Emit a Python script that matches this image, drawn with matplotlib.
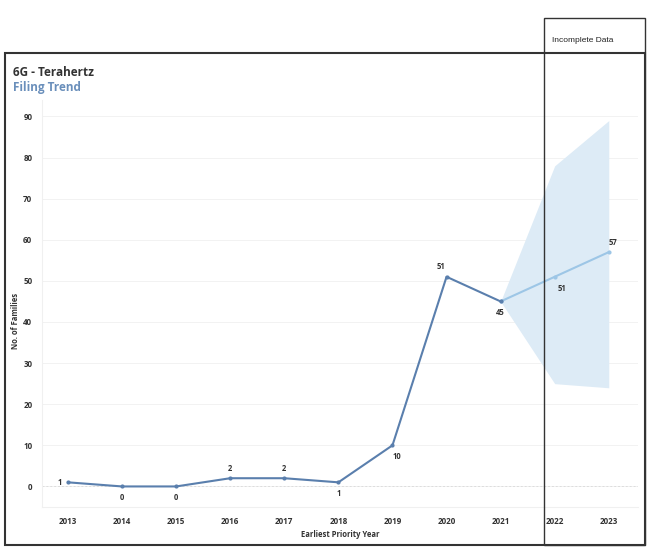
import matplotlib.pyplot as plt
from matplotlib.patches import Rectangle

# data
years = [2013, 2014, 2015, 2016, 2017, 2018, 2019, 2020, 2021]
families = [1, 0, 0, 2, 2, 1, 10, 51, 45]
fc_years = [2021, 2022, 2023]
fc_values = [45, 51, 57]
fc_upper = [45, 78, 89]
fc_lower = [45, 25, 24]
tick_years = list(range(2013, 2024))

plt.rcParams['font.family'] = ['Open Sans', 'DejaVu Sans']

fig = plt.figure(figsize=(6.56, 5.59), dpi=100)
ax = fig.add_axes([42 / 656, 1 - 507 / 559, (638 - 42) / 656, (507 - 100) / 559])

# band + lines
ax.fill_between(fc_years, fc_lower, fc_upper, color='#ddebf6', lw=0, zorder=1)
ax.plot(fc_years, fc_values, color='#9dc6e6', lw=1.5, marker='o', ms=2, zorder=3)
ax.plot(years, families, color='#5a7fad', lw=1.5, marker='o', ms=2, zorder=4)

# value labels
lab_fc = dict(fontsize=5.5, fontweight='bold', color='#333333')
offsets = {2013: (-4, 0, 'right', 'center'), 2014: (0, -5, 'center', 'top'),
           2015: (0, -5, 'center', 'top'), 2016: (0, 4, 'center', 'bottom'),
           2017: (0, 4, 'center', 'bottom'), 2018: (0, -5, 'center', 'top'),
           2019: (3, -5, 'center', 'top'), 2020: (-4, 4, 'center', 'bottom'),
           2021: (0, -5, 'center', 'top')}
for x, y in zip(years, families):
    dx, dy, ha, va = offsets[x]
    ax.annotate(str(y), (x, y), xytext=(dx, dy), textcoords='offset points',
                ha=ha, va=va, **lab_fc)
ax.annotate(str(fc_values[1]), (fc_years[1], fc_values[1]), xytext=(5, -5),
            textcoords='offset points', ha='center', va='top', **lab_fc)
ax.annotate(str(fc_values[2]), (fc_years[2], fc_values[2]), xytext=(3, 4),
            textcoords='offset points', ha='center', va='bottom', **lab_fc)

ax.set_xlim(2012.52, 2023.54)
ax.set_ylim(-5, 94)
ax.set_xticks(tick_years)
ax.set_yticks(range(0, 100, 10))
ax.tick_params(axis='x', length=0, labelsize=5.8, colors='#333333', pad=7)
ax.tick_params(axis='y', length=0, labelsize=5.8, colors='#333333', pad=7)
for t in ax.get_xticklabels() + ax.get_yticklabels():
    t.set_fontweight('bold')
ax.set_xlabel('Earliest Priority Year', fontsize=5.5, fontweight='bold', color='#333333')
ax.set_ylabel('No. of Families', fontsize=5.5, fontweight='bold', color='#333333')
ax.xaxis.set_label_coords((340 - 42) / 596, -(530 - 507) / 407)
ax.yaxis.set_label_coords(-(42 - 20) / 596, (486 - 300) / 407)
ax.grid(axis='y', color='#f2f2f2', lw=0.7)
ax.axhline(0, color='#dddddd', lw=0.7, ls=(0, (2, 2)), zorder=2)
for s in ['top', 'right']:
    ax.spines[s].set_visible(False)
ax.spines['left'].set_color('#f0f0f0')
ax.spines['bottom'].set_color('#f0f0f0')
ax.set_axisbelow(True)

# titles
fig.text(13 / 656, 1 - 72 / 559, '6G - Terahertz', fontsize=8.5, fontweight='bold',
         color='#333333', va='center')
fig.text(13 / 656, 1 - 87 / 559, 'Filing Trend', fontsize=8.5, fontweight='bold',
         color='#6a8fbb', va='center')

# frames
fig.patches.append(Rectangle((5 / 656, 1 - 545 / 559), 640 / 656, 492 / 559,
                             transform=fig.transFigure, fill=False, ec='#333333', lw=1.5))
fig.patches.append(Rectangle((544 / 656, 1 - 545 / 559), 101 / 656, 527 / 559,
                             transform=fig.transFigure, fill=False, ec='#333333', lw=1.0))
fig.text(552 / 656, 1 - 41 / 559, 'Incomplete Data', fontsize=6,
         family=['Liberation Sans', 'DejaVu Sans'], color='#222222', va='center')

fig.savefig('out.png', dpi=100)
